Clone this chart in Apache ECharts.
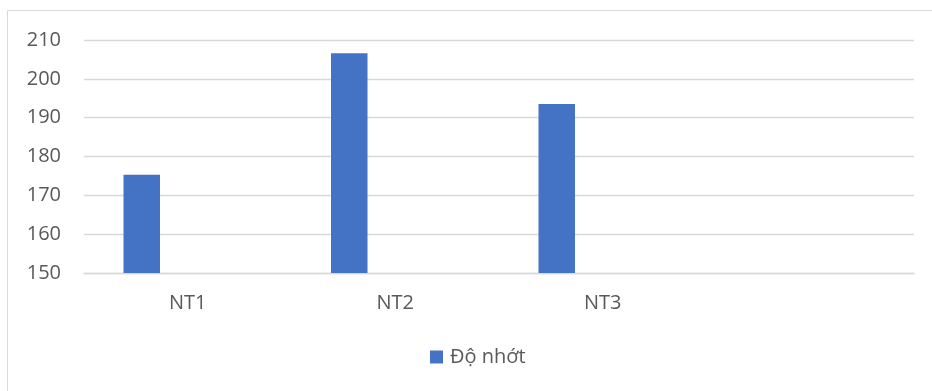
<!DOCTYPE html>
<html>
<head>
<meta charset="utf-8">
<script src="https://cdn.jsdelivr.net/npm/echarts@6/dist/echarts.min.js"></script>
<style>
  html, body { margin: 0; padding: 0; background: #fff; }
  #chart { width: 932px; height: 391px; }
</style>
</head>
<body>
<div id="chart"></div>
<script>
// Categories along the x axis (the last slot is an empty placeholder)
const categories = ['NT1', 'NT2', 'NT3', ''];
// Viscosity per sample
const viscosity = [175.3, 206.6, 193.5, null];
// Empty companion series that keeps each bar left of its slot centre
const placeholder = [null, null, null, null];
const seriesName = 'Độ nhớt';

const FONT = '"Open Sans", "Noto Sans", sans-serif';
const TEXT = '#595959';
const GRID_LINE = '#d9d9d9';

const chart = echarts.init(document.getElementById('chart'), null, { renderer: 'canvas' });
chart.setOption({
  animation: false,
  backgroundColor: '#ffffff',
  textStyle: { fontFamily: FONT },
  graphic: [{
    type: 'rect',
    shape: { x: 7.5, y: 10.5, width: 940, height: 400 },
    style: { fill: 'none', stroke: GRID_LINE, lineWidth: 1 },
    silent: true
  }],
  grid: { left: 84, right: 18, top: 40, bottom: 118, containLabel: false },
  legend: {
    data: [seriesName],
    left: 430,
    top: 347,
    padding: 0,
    icon: 'rect',
    itemWidth: 13,
    itemHeight: 13,
    itemGap: 10,
    textStyle: { color: TEXT, fontSize: 20, fontFamily: FONT, padding: [0, 0, 0, 2] }
  },
  xAxis: {
    type: 'category',
    data: categories,
    axisLine: { show: true, lineStyle: { color: GRID_LINE, width: 1.3 } },
    axisTick: { show: false },
    axisLabel: { color: TEXT, fontSize: 20, fontFamily: FONT, margin: 20 }
  },
  yAxis: {
    type: 'value',
    min: 150,
    max: 210,
    interval: 10,
    axisLine: { show: false },
    axisTick: { show: false },
    axisLabel: { color: TEXT, fontSize: 20, fontFamily: FONT, margin: 23 },
    splitLine: { lineStyle: { color: GRID_LINE, width: 1.3 } }
  },
  series: [
    {
      name: seriesName,
      type: 'bar',
      data: viscosity,
      barWidth: 36.5,
      barGap: '152%',
      itemStyle: { color: '#4472C4' }
    },
    {
      name: 'placeholder',
      type: 'bar',
      data: placeholder,
      barWidth: 36.5,
      itemStyle: { color: 'transparent' }
    }
  ]
});
</script>
</body>
</html>
